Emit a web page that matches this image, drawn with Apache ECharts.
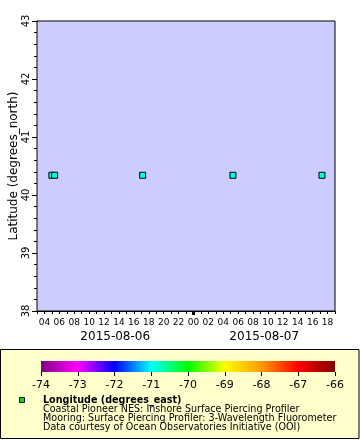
<!DOCTYPE html>
<html><head><meta charset="utf-8">
<script src="https://cdn.jsdelivr.net/npm/echarts@6/dist/echarts.min.js"></script>
<style>html,body{margin:0;padding:0;background:#fff}#c{width:360px;height:440px}</style>
</head><body><div id="c"></div>
<script>
// ---- data ----
const times = ['2015-08-06T05:00:00Z', '2015-08-06T05:22:00Z', '2015-08-06T17:11:00Z', '2015-08-07T05:18:00Z', '2015-08-07T17:15:00Z'];
const latitudes = [40.34, 40.34, 40.34, 40.34, 40.34];
const longitudes = [-70.87, -70.87, -70.87, -70.87, -70.87];
const colorbarTicks = [-74, -73, -72, -71, -70, -69, -68, -67, -66];
const paletteColors = ['#800080', '#ff00ff', '#0000ff', '#00ffff', '#00ff00', '#ffff00', '#ff9900', '#ff0000', '#800000'];
const dayLabels = ['2015-08-06', '2015-08-07'];
const yAxisTitle = 'Latitude (degrees_north)';
const legendLines = ['Coastal Pioneer NES: Inshore Surface Piercing Profiler', 'Mooring: Surface Piercing Profiler: 3-Wavelength Fluorometer', 'Data courtesy of Ocean Observatories Initiative (OOI)'];
const legendTitle = 'Longitude (degrees_east)';

// ---- axis setup ----
const H = 3600000;
const xMin = Date.UTC(2015, 7, 6, 3);
const xMax = Date.UTC(2015, 7, 7, 19);
const midnight = Date.UTC(2015, 7, 7, 0);
const hourTicks = [];
for (let t = xMin; t <= xMax; t += H) hourTicks.push(t);
const labelTicks = hourTicks.filter(t => new Date(t).getUTCHours() % 2 === 0);
const dateLabelValues = [(xMin + midnight) / 2, (midnight + xMax) / 2];
const pad = n => (n < 10 ? '0' : '') + n;
const FONT = 'DejaVu Sans';

const stops = paletteColors.map((c, i) => ({ offset: i / (paletteColors.length - 1), color: c }));

const chart = echarts.init(document.getElementById('c'), null, { renderer: 'canvas' });
chart.setOption({
  animation: false,
  backgroundColor: '#ffffff',
  textStyle: { fontFamily: FONT },
  grid: [
    { left: 37, right: 25, top: 21, bottom: 129, show: true, backgroundColor: '#ccccff', borderColor: '#000', borderWidth: 1, z: 2, containLabel: false, outerBoundsMode: 'none' },
    { left: 41, right: 25, top: 361, height: 11, show: true, backgroundColor: new echarts.graphic.LinearGradient(0, 0, 1, 0, stops), borderWidth: 0, z: 5, containLabel: false, outerBoundsMode: 'none' }
  ],
  xAxis: [
    {
      gridIndex: 0, type: 'value', min: xMin, max: xMax, position: 'bottom',
      axisLine: { show: true, lineStyle: { color: '#000', width: 1 } },
      axisTick: { show: true, customValues: hourTicks, length: 3, lineStyle: { color: '#000', width: 1 } },
      axisLabel: { customValues: labelTicks, formatter: v => pad(new Date(v).getUTCHours()), fontSize: 9, color: '#000', margin: 7, fontFamily: FONT, hideOverlap: false },
      splitLine: { show: false }
    },
    {
      gridIndex: 0, type: 'value', min: xMin, max: xMax, position: 'bottom',
      axisLine: { show: false },
      axisTick: { show: true, customValues: [midnight], length: 4, lineStyle: { color: '#000', width: 3 } },
      axisLabel: { show: true, customValues: dateLabelValues, formatter: v => (v < midnight ? dayLabels[0] : dayLabels[1]), fontSize: 12, color: '#000', margin: 20, fontFamily: FONT },
      splitLine: { show: false }
    },
    {
      gridIndex: 1, type: 'value', min: colorbarTicks[0], max: colorbarTicks[colorbarTicks.length - 1], interval: 1,
      axisLine: { show: false },
      axisTick: { show: true, length: 4, lineStyle: { color: '#000', width: 1 } },
      axisLabel: { fontSize: 11, color: '#000', margin: 8, fontFamily: FONT },
      splitLine: { show: false }
    }
  ],
  yAxis: [
    {
      gridIndex: 0, type: 'value', min: 38, max: 43, interval: 1,
      axisLine: { show: true, lineStyle: { color: '#000', width: 1 } },
      axisTick: { show: true, length: 5, lineStyle: { color: '#000' } },
      minorTick: { show: true, splitNumber: 5, length: 3, lineStyle: { color: '#000' } },
      axisLabel: { rotate: 90, fontSize: 10, color: '#000', margin: 6, fontFamily: FONT },
      splitLine: { show: false }, minorSplitLine: { show: false }
    },
    { gridIndex: 1, type: 'value', min: 0, max: 1, show: false }
  ],
  visualMap: {
    show: false, type: 'continuous', dimension: 2, seriesIndex: 0,
    min: colorbarTicks[0], max: colorbarTicks[colorbarTicks.length - 1],
    inRange: { color: paletteColors }
  },
  series: [{
    type: 'scatter', xAxisIndex: 0, yAxisIndex: 0, z: 10,
    symbol: 'rect', symbolSize: 6,
    itemStyle: { borderColor: '#000', borderWidth: 1, opacity: 1 },
    data: times.map((t, i) => [Date.parse(t), latitudes[i], longitudes[i]])
  }],
  graphic: [
    { type: 'text', z: 10, x: 14, y: 166, rotation: Math.PI / 2, style: { text: yAxisTitle, font: '12px "DejaVu Sans"', fill: '#000', align: 'center', verticalAlign: 'middle' } },
    { type: 'rect', z: -10, shape: { x: 0.5, y: 349.5, width: 358.5, height: 89 }, style: { fill: '#ffffcc', stroke: '#000', lineWidth: 1 } },
    { type: 'rect', z: 10, shape: { x: 19.5, y: 397.5, width: 5, height: 5 }, style: { fill: '#00e000', stroke: '#000', lineWidth: 1 } },
    { type: 'text', z: 10, x: 43, y: 400, style: { text: legendTitle, font: 'bold 9.6px "DejaVu Sans"', fill: '#000', verticalAlign: 'middle' } },
    { type: 'text', z: 10, x: 43, y: 409, style: { text: legendLines[0], font: '9.6px "DejaVu Sans"', fill: '#000', verticalAlign: 'middle' } },
    { type: 'text', z: 10, x: 43, y: 418, style: { text: legendLines[1], font: '9.6px "DejaVu Sans"', fill: '#000', verticalAlign: 'middle' } },
    { type: 'text', z: 10, x: 43, y: 427, style: { text: legendLines[2], font: '9.6px "DejaVu Sans"', fill: '#000', verticalAlign: 'middle' } }
  ]
});
</script>
</body></html>
